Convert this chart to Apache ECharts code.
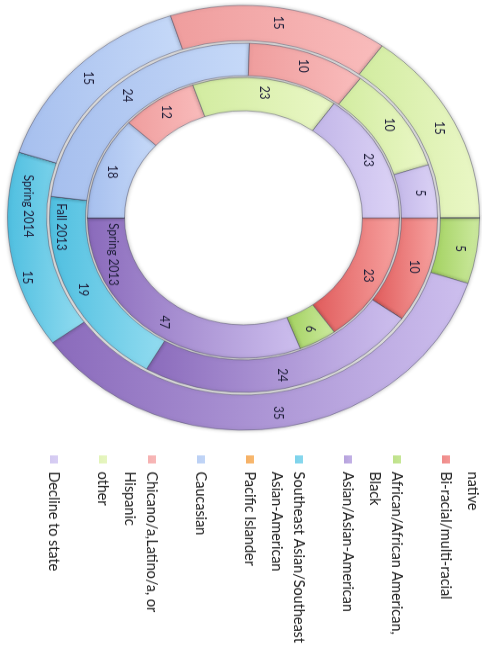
<!DOCTYPE html>
<html>
<head>
<meta charset="utf-8">
<script src="https://cdn.jsdelivr.net/npm/echarts@6/dist/echarts.min.js"></script>
<style>
  html, body { margin: 0; padding: 0; background: #fff; overflow: hidden; }
  /* the source picture is the chart turned a quarter turn and squeezed a little */
  #main {
    position: absolute; left: 0; top: 0;
    width: 720px; height: 482px;
    transform-origin: 0 0;
    transform: translateX(482px) rotate(90deg) scaleX(0.9);
  }
</style>
</head>
<body>
<div id="main"></div>
<script>
var categories = [
    'American Indian/Alaska native',
    'Bi-racial/multi-racial',
    'African/African American, Black',
    'Asian/Asian-American',
    'Southeast Asian/Southeast Asian-American',
    'Pacific Islander',
    'Caucasian',
    'Chicano/a,Latino/a, or Hispanic',
    'other',
    'Decline to state'
];
// legend wording as wrapped in the picture
var legendText = [
    'American Indian/Alaska\nnative',
    'Bi-racial/multi-racial\n ',
    'African/African American,\nBlack',
    'Asian/Asian-American\n ',
    'Southeast Asian/Southeast\nAsian-American',
    'Pacific Islander\n ',
    'Caucasian\n ',
    'Chicano/a,Latino/a, or\nHispanic',
    'other\n ',
    'Decline to state\n '
];

var seriesNames = ['Spring 2013', 'Fall 2013', 'Spring 2014'];
var spring2013 = [0, 23, 6, 47, 0, 0, 18, 12, 23, 23];
var fall2013 = [0, 10, 0, 24, 19, 0, 24, 10, 10, 5];
var spring2014 = [0, 0, 5, 35, 15, 0, 15, 15, 15, 0];

// light (top) and dark (bottom) shade of each category
var shades = [
    ['#a9c4ec', '#7f9fd0'],
    ['#f7a3a1', '#e05b5b'],
    ['#cdeaa0', '#a2d15f'],
    ['#cdbfee', '#8a6abb'],
    ['#93dcf0', '#4fbfe0'],
    ['#f9c07a', '#ef913a'],
    ['#c6d9f8', '#a6bfee'],
    ['#f9bcbc', '#ef9d9d'],
    ['#eaf7c6', '#d2eca0'],
    ['#dcd3f6', '#c2b6e8']
];

var rings = [[119, 156], [158, 194], [197, 236]];
var nameSlot = 5; // series name is written on the empty Pacific Islander slice
var nameShift = [[6, -10], [6, 5], [20, 7]];
// value label that sits off-centre in the picture (ring, slot, dx)
var labelNudge = [[2, 4, 32]];

const chart = echarts.init(document.getElementById('main'), null, {
    renderer: 'canvas',
    devicePixelRatio: 1
});

function ring(k, values) {
    return {
        name: seriesNames[k],
        type: 'pie',
        center: [242, 238.5],
        radius: rings[k],
        startAngle: 90,
        clockwise: true,
        avoidLabelOverlap: false,
        animation: false,
        itemStyle: {
            borderColor: 'rgba(70,70,95,0.45)',
            borderWidth: 1,
            shadowBlur: 4,
            shadowColor: 'rgba(0,0,0,0.28)'
        },
        label: {
            show: true,
            position: 'inside',
            fontFamily: 'Lato',
            fontSize: 13,
            color: '#1f1f3a',
            formatter: function (p) {
                if (p.value > 0) return p.value;
                return p.dataIndex === nameSlot ? p.seriesName : '';
            }
        },
        labelLine: { show: false },
        labelLayout: function (p) {
            if (p.dataIndex === nameSlot) {
                return { align: 'left', dx: nameShift[k][0], dy: nameShift[k][1] };
            }
            for (var i = 0; i < labelNudge.length; i++) {
                if (labelNudge[i][0] === k && labelNudge[i][1] === p.dataIndex) {
                    return { dx: labelNudge[i][2] };
                }
            }
            return {};
        },
        data: categories.map(function (c, i) {
            return {
                name: c,
                value: values[i],
                itemStyle: {
                    color: new echarts.graphic.LinearGradient(0, 0, 0, 1, [
                        { offset: 0, color: shades[i][0] },
                        { offset: 1, color: shades[i][1] }
                    ])
                }
            };
        })
    };
}

var option = {
    backgroundColor: '#ffffff',
    legend: {
        orient: 'vertical',
        left: 501,
        top: -29,
        itemGap: 5,
        itemWidth: 13,
        itemHeight: 44,
        // small square level with the first text line
        icon: 'path://M0,7h9v8h-9z M0,0h0.01v0.01h-0.01z M13,44h0.01v-0.01h-0.01z',
        itemStyle: { borderWidth: 0, shadowBlur: 0 },
        textStyle: {
            fontFamily: 'Lato',
            fontSize: 16,
            lineHeight: 22,
            color: '#222'
        },
        formatter: function (name) {
            return legendText[categories.indexOf(name)];
        },
        data: categories
    },
    series: [
        ring(0, spring2013),
        ring(1, fall2013),
        ring(2, spring2014)
    ]
};

chart.setOption(option);
</script>
</body>
</html>
